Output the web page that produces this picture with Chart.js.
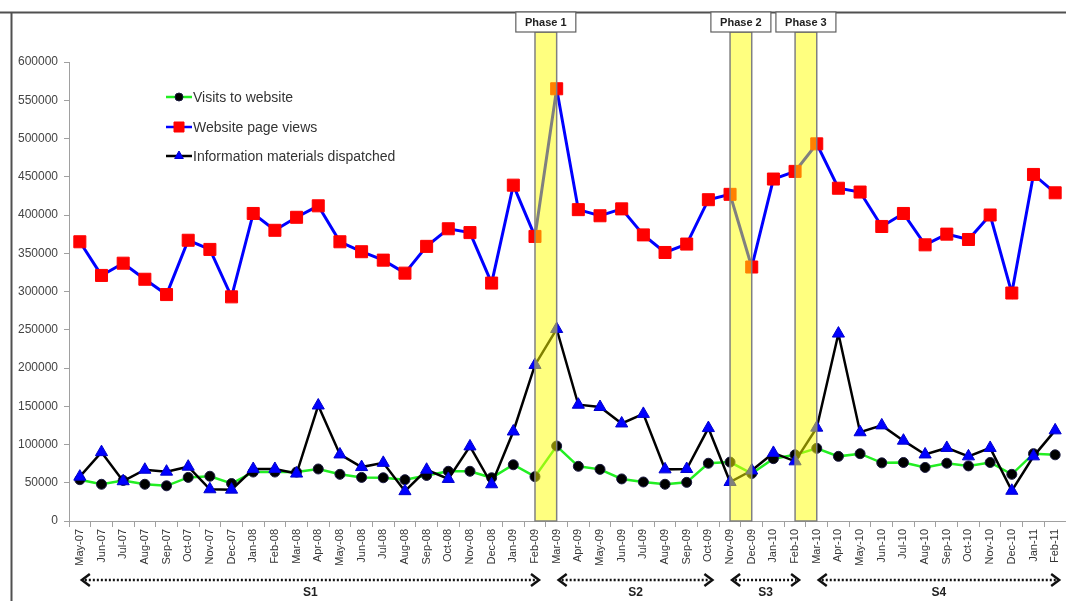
<!DOCTYPE html>
<html>
<head>
<meta charset="utf-8">
<script src="https://cdn.jsdelivr.net/npm/chart.js@4.4.1/dist/chart.umd.min.js"></script>
<style>
  html, body { margin: 0; padding: 0; background: #fff; }
  #wrap { position: relative; width: 1066px; height: 601px; }
</style>
</head>
<body>
<div id="wrap"><canvas id="chart" width="1066" height="601"></canvas></div>
<script>
var months = ["May-07","Jun-07","Jul-07","Aug-07","Sep-07","Oct-07","Nov-07","Dec-07",
  "Jan-08","Feb-08","Mar-08","Apr-08","May-08","Jun-08","Jul-08","Aug-08","Sep-08","Oct-08","Nov-08","Dec-08",
  "Jan-09","Feb-09","Mar-09","Apr-09","May-09","Jun-09","Jul-09","Aug-09","Sep-09","Oct-09","Nov-09","Dec-09",
  "Jan-10","Feb-10","Mar-10","Apr-10","May-10","Jun-10","Jul-10","Aug-10","Sep-10","Oct-10","Nov-10","Dec-10",
  "Jan-11","Feb-11"];

var visits = [54000, 48000, 53000, 48000, 46000, 57000, 58500, 49000,
  64000, 64000, 64000, 68000, 61000, 57000, 56500, 54000, 59500, 65000, 65000, 56500,
  73500, 58000, 98000, 71500, 67500, 55000, 51000, 48000, 50500, 75500, 77000, 62000,
  81500, 86500, 95000, 84500, 88000, 76000, 76500, 70000, 75500, 72000, 76500, 61000,
  88000, 86500];

var pageViews = [365000, 321000, 337000, 316000, 296000, 367000, 355000, 293000,
  402000, 380000, 397000, 412000, 365000, 352000, 341000, 324000, 359000, 382000, 377000, 311000,
  439000, 372000, 565000, 407000, 399000, 408000, 374000, 351000, 362000, 420000, 427000, 332000,
  447000, 457000, 493000, 435000, 430000, 385000, 402000, 361000, 375000, 368000, 400000, 298000,
  453000, 429000];

var dispatched = [58000, 90000, 52000, 67000, 64500, 71000, 41500, 41000,
  68000, 68000, 62000, 151000, 87000, 70500, 76000, 39000, 67000, 55000, 97500, 48000,
  117000, 204000, 251000, 152000, 149000, 127500, 140000, 67500, 68000, 121500, 51000, 66000,
  89000, 78000, 122000, 245000, 116000, 125000, 105000, 87000, 95500, 84500, 95500, 39500,
  84500, 118500];

var seriesNames = ["Visits to website", "Website page views", "Information materials dispatched"];

var phaseNames = ["Phase 1", "Phase 2", "Phase 3"];
var phaseFrom = ["Feb-09", "Nov-09", "Feb-10"];
var phaseTo = ["Mar-09", "Dec-09", "Mar-10"];

var stageNames = ["S1", "S2", "S3", "S4"];
var stageFrom = ["May-07", "Mar-09", "Nov-09", "Mar-10"];
var stageTo = ["Feb-09", "Oct-09", "Feb-10", "Feb-11"];

var FONT = "'Liberation Sans', Arial, sans-serif";

function marker(ctx, style, x, y, r, fill, stroke) {
  ctx.beginPath();
  if (style == "circle") {
    ctx.arc(x, y, r, 0, Math.PI * 2);
  } else if (style == "rect") {
    ctx.rect(x - r, y - r, r * 2, r * 2);
  } else {
    ctx.moveTo(x, y - r);
    ctx.lineTo(x + r * 0.87, y + r * 0.5);
    ctx.lineTo(x - r * 0.87, y + r * 0.5);
    ctx.closePath();
  }
  ctx.fillStyle = fill;
  ctx.fill();
  ctx.strokeStyle = stroke;
  ctx.lineWidth = 1;
  ctx.stroke();
}

var overlay = {
  id: "overlay",
  afterDatasetsDraw: function(chart) {
    var ctx = chart.ctx, xs = chart.scales.x, ys = chart.scales.y;
    ctx.save();
    for (var i = 0; i < phaseNames.length; i++) {
      var x0 = xs.getPixelForValue(months.indexOf(phaseFrom[i]));
      var x1 = xs.getPixelForValue(months.indexOf(phaseTo[i]));
      ctx.fillStyle = "rgba(255,255,0,0.5)";
      ctx.fillRect(x0, 32, x1 - x0, ys.bottom - 32);
      ctx.strokeStyle = "#808080";
      ctx.lineWidth = 1.5;
      ctx.strokeRect(x0, 32, x1 - x0, ys.bottom - 32);
    }
    ctx.restore();
  },
  afterDraw: function(chart) {
    var ctx = chart.ctx, xs = chart.scales.x;
    ctx.save();

    // frame
    ctx.strokeStyle = "#505050";
    ctx.lineWidth = 2;
    ctx.beginPath();
    ctx.moveTo(0, 12.5);
    ctx.lineTo(1066, 12.5);
    ctx.moveTo(11.5, 12);
    ctx.lineTo(11.5, 601);
    ctx.stroke();

    // phase boxes
    for (var i = 0; i < phaseNames.length; i++) {
      var x0 = xs.getPixelForValue(months.indexOf(phaseFrom[i]));
      var x1 = xs.getPixelForValue(months.indexOf(phaseTo[i]));
      var cx = (x0 + x1) / 2;
      ctx.fillStyle = "#fff";
      ctx.fillRect(cx - 30, 12, 60, 20);
      ctx.strokeStyle = "#606060";
      ctx.lineWidth = 1.2;
      ctx.strokeRect(cx - 30, 12, 60, 20);
      ctx.fillStyle = "#222";
      ctx.font = "bold 11px " + FONT;
      ctx.textAlign = "center";
      ctx.textBaseline = "middle";
      ctx.fillText(phaseNames[i], cx, 22.5);
    }

    // legend
    var ds = chart.data.datasets;
    var rows = [97, 127, 156];
    for (var k = 0; k < ds.length; k++) {
      var ly = rows[k];
      ctx.strokeStyle = ds[k].borderColor;
      ctx.lineWidth = 2.5;
      ctx.beginPath();
      ctx.moveTo(166, ly);
      ctx.lineTo(192, ly);
      ctx.stroke();
      var st = ds[k].pointStyle;
      marker(ctx, st, 179, ly, st == "rect" ? 5 : (st == "circle" ? 4 : 5),
        ds[k].pointBackgroundColor, ds[k].pointBorderColor);
      ctx.fillStyle = "#333";
      ctx.font = "14px " + FONT;
      ctx.textAlign = "left";
      ctx.textBaseline = "middle";
      ctx.fillText(ds[k].label, 193, ly + 1);
    }

    // stage arrows
    var ay = 580;
    for (var s = 0; s < stageNames.length; s++) {
      var xa = xs.getPixelForValue(months.indexOf(stageFrom[s])) + 2;
      var xb = xs.getPixelForValue(months.indexOf(stageTo[s])) + 4;
      ctx.strokeStyle = "#111";
      ctx.lineWidth = 2.5;
      ctx.setLineDash([2, 2]);
      ctx.beginPath();
      ctx.moveTo(xa + 3, ay);
      ctx.lineTo(xb - 3, ay);
      ctx.stroke();
      ctx.setLineDash([]);
      ctx.beginPath();
      ctx.moveTo(xa + 8, ay - 6);
      ctx.lineTo(xa, ay);
      ctx.lineTo(xa + 8, ay + 6);
      ctx.moveTo(xb - 8, ay - 6);
      ctx.lineTo(xb, ay);
      ctx.lineTo(xb - 8, ay + 6);
      ctx.stroke();
      ctx.fillStyle = "#222";
      ctx.font = "bold 12px " + FONT;
      ctx.textAlign = "center";
      ctx.textBaseline = "middle";
      ctx.fillText(stageNames[s], (xa + xb) / 2, 593);
    }
    ctx.restore();
  }
};

new Chart(document.getElementById("chart"), {
  type: "line",
  data: {
    labels: months,
    datasets: [
      {
        label: seriesNames[0],
        data: visits,
        borderColor: "#22ee22",
        borderWidth: 2.5,
        pointStyle: "circle",
        pointRadius: 5,
        pointBackgroundColor: "#000",
        pointBorderColor: "#1a1a40",
        pointBorderWidth: 1,
        order: 2
      },
      {
        label: seriesNames[1],
        data: pageViews,
        borderColor: "#0000ff",
        borderWidth: 3,
        pointStyle: "rect",
        pointRadius: 8.5,
        pointBackgroundColor: "#ff0000",
        pointBorderColor: "#ff0000",
        pointBorderWidth: 1,
        order: 3
      },
      {
        label: seriesNames[2],
        data: dispatched,
        borderColor: "#000",
        borderWidth: 2.5,
        pointStyle: "triangle",
        pointRadius: 7,
        pointBackgroundColor: "#0000ff",
        pointBorderColor: "#0000cc",
        pointBorderWidth: 1,
        order: 1
      }
    ]
  },
  options: {
    responsive: false,
    animation: false,
    devicePixelRatio: 1,
    layout: { autoPadding: false, padding: { top: 62, left: 0, right: -3, bottom: 0 } },
    elements: { line: { tension: 0 } },
    plugins: {
      legend: { display: false },
      tooltip: { enabled: false }
    },
    scales: {
      x: {
        offset: true,
        grid: { offset: true, drawOnChartArea: false, tickLength: 6, color: "#a0a0a0" },
        border: { color: "#a0a0a0" },
        ticks: {
          autoSkip: false, minRotation: 90, maxRotation: 90, padding: 2,
          color: "#333", font: { family: FONT, size: 11 }
        },
        afterFit: function(scale) {
          scale.height = 80;
          scale.paddingLeft = 0;
          scale.paddingRight = 0;
        }
      },
      y: {
        min: 0,
        max: 600000,
        grid: { drawOnChartArea: false, tickLength: 5, color: "#a0a0a0" },
        border: { color: "#a0a0a0" },
        ticks: {
          stepSize: 50000, padding: 6, color: "#444",
          font: { family: FONT, size: 12 },
          callback: function(v) { return String(v); }
        },
        afterFit: function(scale) {
          scale.width = 69;
          scale.paddingTop = 0;
          scale.paddingBottom = 0;
        }
      }
    }
  },
  plugins: [overlay]
});
</script>
</body>
</html>
